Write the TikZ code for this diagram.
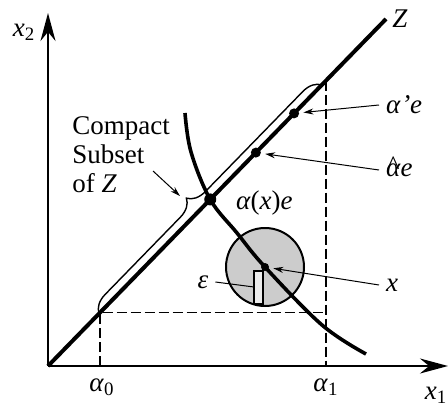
\documentclass[tikz,border=0pt]{standalone}
\usepackage{fontspec}
\setmainfont{Liberation Serif}
\usetikzlibrary{arrows.meta,calc,decorations.pathreplacing}
\tikzset{
  every node/.style={font=\fontsize{13.5}{14.5}\selectfont},
  axis/.style={-{Stealth[length=14pt,width=7.5pt]}, line width=1pt},
  zline/.style={line width=2pt},
  guide/.style={dash pattern=on 5pt off 2pt, line width=0.8pt},
  lead/.style={-{Stealth[length=5pt,width=3pt]}, line width=0.5pt, shorten >=2pt},
  spot/.style={circle, fill=black, inner sep=0pt, minimum size=#1},
  spot/.default=5pt
}
\newcommand{\ahat}{\ooalign{\textit{α}\cr\hidewidth\raisebox{0.05em}{\textit{\^{}}}\kern0.05em\hidewidth\cr}}

\begin{document}
\begin{tikzpicture}[x=0.5pt, y=0.5pt]
\useasboundingbox (0,0) rectangle (448,407);

% axes
\coordinate (O) at (48,41);
\coordinate (xend) at (448,41);
\coordinate (yend) at (48,394);
\draw[axis] (O) -- (xend);
\draw[axis] (O) -- (yend);
\node (xtwo) at (24,375) {\textit{x}\textsubscript{2}};
\node (xone) at (436,12) {\textit{x}\textsubscript{1}};

% the line Z and the points on it
\coordinate (Zend) at (386,388);
\coordinate (c0) at ($(O)!0.154!(Zend)$);
\coordinate (c1) at ($(O)!0.8225!(Zend)$);
\coordinate (ax) at ($(O)!0.48!(Zend)$);
\coordinate (ap) at ($(O)!0.728!(Zend)$);
\coordinate (ah) at ($(O)!0.615!(Zend)$);
\coordinate (b0) at ($(O)!0.151!(Zend)$);
\coordinate (b1) at ($(O)!0.81!(Zend)$);
\coordinate (xp) at (265,140);

% dashed box
\draw[guide] (c0 |- O) -- (c0) -- (c0 -| c1);
\draw[guide] (c1) -- (c1 |- O);
\node (azero) at (102,20) {\textit{α}\textsubscript{0}};
\node (aone) at (326,20) {\textit{α}\textsubscript{1}};

% neighbourhood of x
\draw[line width=1pt, fill=gray!40] (xp) circle[radius=39];
\draw[line width=0.6pt, fill=gray!15] (254,103) rectangle (263,136);
\coordinate (epsend) at (254,120);

% curve
\draw[line width=1.8pt] plot[smooth, tension=0.6]
  coordinates {(185,294) (191,255) (ax) (237,174) (xp) (322,82) (366,53)};

\draw[zline] (O) -- (Zend);
\node (zlab) at (400,388) {\textit{Z}};

% compact subset
\draw[line width=0.7pt, decorate, decoration={brace, amplitude=9pt, aspect=0.45}] (b0) -- (b1);
\node[anchor=north west, align=left, inner sep=0pt] (cs) at (72,291) {Compact\\Subset\\of \textit{Z}};
\coordinate (csfrom) at (153,236);
\coordinate (brtip) at (180,211);
\draw[lead, shorten >=0pt] (csfrom) -- (brtip);

% points and labels
\node[spot=6pt] (axe) at (ax) {};
\node[spot] (ape) at (ap) {};
\node[spot] (ahe) at (ah) {};
\node[spot=4pt] (xpt) at (xp) {};

\node[anchor=west] (axlab) at (229,204) {\textit{α}(\textit{x})\textit{e}};
\node[anchor=west] (aplab) at (379,302) {\textit{α\kern0.5pt'e}};
\node[anchor=west] (ahlab) at (379,237) {\ahat\textit{e}};
\node[anchor=west] (xlab) at (379,122) {\textit{x}};
\node (eps) at (203,125) {\textit{ε}};

\draw[lead] (aplab.west) -- (ape);
\draw[lead] (ahlab.west) -- (ahe);
\draw[lead] (xlab.west) -- (xpt);
\draw[line width=0.5pt] (eps.east) -- (epsend);

\end{tikzpicture}
\end{document}
